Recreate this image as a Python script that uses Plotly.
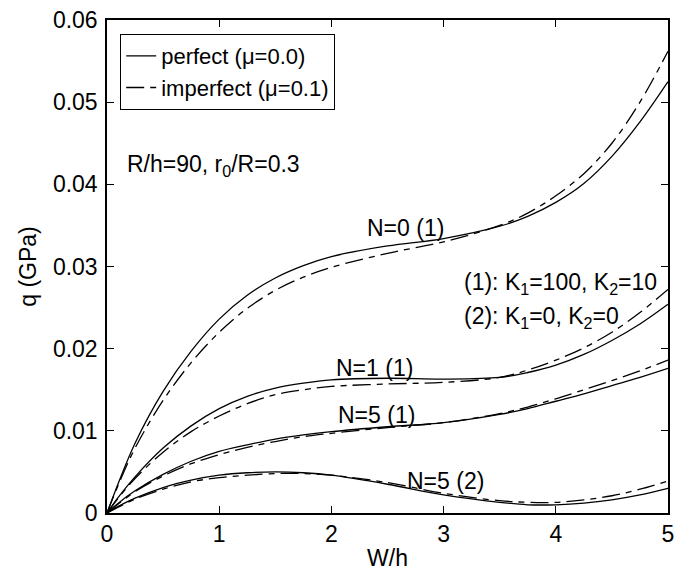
import plotly.graph_objects as go

# ---- data ----
W = [0, 0.1, 0.25, 0.5, 0.75, 1.0, 1.25, 1.5, 1.75, 2.0, 2.5, 3.0, 3.5, 3.75, 4.0, 4.25, 4.5, 4.75, 5.0]

N0_perfect   = [0, 0.0036, 0.0085, 0.0148, 0.0197, 0.0236, 0.0265, 0.0286, 0.0301, 0.0312, 0.0325, 0.0334, 0.0349, 0.0361, 0.0378, 0.0401, 0.0434, 0.0476, 0.0525]
N0_imperfect = [0, 0.0034, 0.0079, 0.0137, 0.0183, 0.0220, 0.0249, 0.0271, 0.0287, 0.0299, 0.0316, 0.0330, 0.0350, 0.0365, 0.0386, 0.0413, 0.0450, 0.0500, 0.0562]

N1_perfect   = [0, 0.0019, 0.0044, 0.0079, 0.0106, 0.0127, 0.0142, 0.0152, 0.0158, 0.0162, 0.0164, 0.0163, 0.0165, 0.0171, 0.0180, 0.0193, 0.0210, 0.0230, 0.0254]
N1_imperfect = [0, 0.0018, 0.0042, 0.0074, 0.0099, 0.0118, 0.0133, 0.0144, 0.0150, 0.0154, 0.0157, 0.0159, 0.0165, 0.0174, 0.0186, 0.0201, 0.0220, 0.0244, 0.0272]

N5a_perfect   = [0, 0.0012, 0.0027, 0.0047, 0.0063, 0.0075, 0.0083, 0.0090, 0.0095, 0.0099, 0.0105, 0.0110, 0.0120, 0.0127, 0.0136, 0.0145, 0.0155, 0.0165, 0.0176]
N5a_imperfect = [0, 0.0011, 0.0026, 0.0045, 0.0060, 0.0071, 0.0080, 0.0087, 0.0093, 0.0097, 0.0104, 0.0110, 0.0121, 0.0129, 0.0139, 0.0150, 0.0161, 0.0173, 0.0186]

N5b_perfect   = [0, 0.0008, 0.0018, 0.0031, 0.0040, 0.0046, 0.0049, 0.0050, 0.0049, 0.0046, 0.0035, 0.0022, 0.0013, 0.0010, 0.0010, 0.0012, 0.0016, 0.0022, 0.0030]
N5b_imperfect = [0, 0.0007, 0.0017, 0.0029, 0.0038, 0.0043, 0.0046, 0.0048, 0.0048, 0.0046, 0.0037, 0.0024, 0.0015, 0.0013, 0.0013, 0.0016, 0.0021, 0.0029, 0.0039]

legend_names = ["perfect (\u03bc=0.0)", "imperfect (\u03bc=0.1)"]
curve_labels = ["N=0 (1)", "N=1 (1)", "N=5 (1)", "N=5 (2)"]
label_x = [2.66, 2.38, 2.40, 3.02]
label_y = [0.0347, 0.0177, 0.0119, 0.0039]

FONT = "Liberation Sans, Arial, sans-serif"
DASH = "18px,6px,6px,6px"
FS = 23

fig = go.Figure()
pairs = [(N0_perfect, N0_imperfect), (N1_perfect, N1_imperfect),
         (N5a_perfect, N5a_imperfect), (N5b_perfect, N5b_imperfect)]
for i, (p, q) in enumerate(pairs):
    fig.add_trace(go.Scatter(x=W, y=p, mode="lines", line=dict(color="black", width=1.3, shape="spline"),
                             name=legend_names[0], showlegend=(i == 0), legendrank=1))
    fig.add_trace(go.Scatter(x=W, y=q, mode="lines", line=dict(color="black", width=1.3, dash=DASH, shape="spline"),
                             name=legend_names[1], showlegend=(i == 0), legendrank=2))

annots = []
for t, xx, yy in zip(curve_labels, label_x, label_y):
    annots.append(dict(x=xx, y=yy, text=t, showarrow=False, xanchor="center", yanchor="middle",
                       font=dict(size=FS, color="black", family=FONT)))
annots.append(dict(x=0.16, y=0.0423, text="R/h=90, r<sub>0</sub>/R=0.3", showarrow=False,
                   xanchor="left", yanchor="middle", font=dict(size=FS, color="black", family=FONT)))
annots.append(dict(x=3.16, y=0.0279, text="(1): K<sub>1</sub>=100, K<sub>2</sub>=10", showarrow=False,
                   xanchor="left", yanchor="middle", font=dict(size=FS, color="black", family=FONT)))
annots.append(dict(x=3.16, y=0.0238, text="(2): K<sub>1</sub>=0, K<sub>2</sub>=0", showarrow=False,
                   xanchor="left", yanchor="middle", font=dict(size=FS, color="black", family=FONT)))

axis_common = dict(showline=True, linecolor="black", linewidth=1.5, mirror="ticks",
                   ticks="inside", ticklen=7, tickwidth=1.2, tickcolor="black",
                   showgrid=False, zeroline=False, automargin=False,
                   tickfont=dict(size=23, color="black", family=FONT))

fig.update_layout(
    width=683, height=572,
    margin=dict(l=107, r=15, t=20, b=59),
    paper_bgcolor="white", plot_bgcolor="white",
    font=dict(family=FONT, color="black", size=FS),
    xaxis=dict(range=[0, 5], dtick=1,
               title=dict(text="W/h", font=dict(size=FS), standoff=4), **axis_common),
    yaxis=dict(range=[0, 0.06], dtick=0.01, ticklabelstandoff=3,
               title=dict(text="q (GPa)", font=dict(size=FS), standoff=10), **axis_common),
    legend=dict(x=0.023, y=0.972, xanchor="left", yanchor="top", bgcolor="white",
                bordercolor="black", borderwidth=1.3, font=dict(size=FS - 1, family=FONT, color="black"),
                tracegroupgap=0),
    annotations=annots,
)

fig.write_html("out.html")
